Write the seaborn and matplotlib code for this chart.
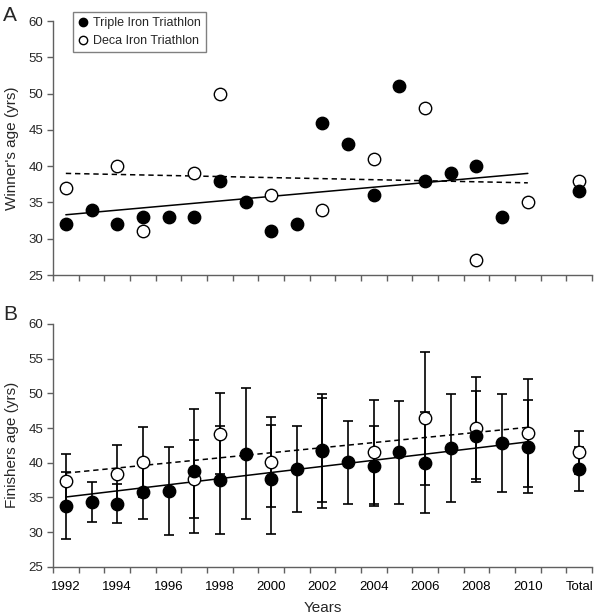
import numpy as np
import matplotlib
matplotlib.use("Agg")
import matplotlib.pyplot as plt
import seaborn as sns
from matplotlib.lines import Line2D

sns.set_theme(style="white")
plt.rcParams['font.family'] = ['Liberation Sans', 'DejaVu Sans']

nan = np.nan

# categories: 1992..2010, an empty slot, then Total
categories = [str(y) for y in range(1992, 2011)] + ["", "Total"]
tick_labels = ["1992", "1994", "1996", "1998", "2000", "2002", "2004",
               "2006", "2008", "2010", "Total"]

# panel A - winner's age
triple_winner = [32, 34, 32, 33, 33, 33, 38, 35, 31, 32, 46, 43, 36, 51, 38,
                 39, 40, 33, nan, nan, 36.6]
deca_winner = [37, nan, 40, 31, nan, 39, 50, nan, 36, nan, 34, nan, 41, nan,
               48, nan, 27, nan, 35, nan, 38]
trend_triple_a = [33.3, 39.0]
trend_deca_a = [39.0, 37.7]

# panel B - finishers age (mean, sd)
triple_mean = [33.8, 34.3, 34.1, 35.8, 35.9, 38.8, 37.5, 41.3, 37.6, 39.1,
               41.7, 40.05, 39.5, 41.5, 40.0, 42.1, 43.8, 42.8, 42.3, nan, 39.1]
triple_sd = [4.8, 2.85, 2.8, 3.9, 6.4, 8.9, 7.8, 9.4, 7.9, 6.2,
             8.2, 6.0, 5.8, 7.45, 7.3, 7.75, 6.6, 7.05, 6.7, nan, 3.2]
deca_mean = [37.4, nan, 38.4, 40.1, nan, 37.6, 44.2, nan, 40.1, nan,
             41.8, nan, 41.5, nan, 46.4, nan, 45.0, nan, 44.3, nan, 41.5]
deca_sd = [3.9, nan, 4.1, 5.1, nan, 5.6, 5.9, nan, 6.5, nan,
           7.5, nan, 7.5, nan, 9.6, nan, 7.3, nan, 7.75, nan, 3.1]
trend_triple_b = [35.05, 43.0]
trend_deca_b = [38.5, 45.1]
trend_x = [0, 18]

x = np.arange(len(categories))
spine_col = "#606060"

fig = plt.figure(figsize=(6.0, 6.16), dpi=100)
ax_a = fig.add_axes([53/600, 1-275/616, 539/600, 254/616])
ax_b = fig.add_axes([53/600, 1-566.7/616, 539/600, 242.7/616])


def style_axis(ax, show_labels):
    ax.set_xlim(-0.5, len(categories) - 0.5)
    ax.set_ylim(25, 60)
    ax.set_yticks(range(25, 61, 5))
    for s in ["top", "right"]:
        ax.spines[s].set_visible(False)
    for s in ["left", "bottom"]:
        ax.spines[s].set_color(spine_col)
        ax.spines[s].set_linewidth(1.0)
    ax.set_xticks(np.arange(-0.5, len(categories), 1.0))
    ax.set_xticklabels([])
    label_pos = [categories.index(t) for t in tick_labels]
    ax.set_xticks(label_pos, minor=True)
    ax.set_xticklabels(tick_labels if show_labels else [], minor=True)
    ax.tick_params(axis="x", which="major", direction="out", length=4,
                   width=1, color=spine_col, bottom=True)
    ax.tick_params(axis="x", which="minor", length=0, labelsize=9.5,
                   pad=10, colors="black", bottom=True)
    ax.tick_params(axis="y", direction="out", length=4, width=1,
                   color=spine_col, labelsize=9.5, pad=3, left=True)
    ax.grid(False)


def draw_points(ax, filled, opened):
    sns.scatterplot(x=x, y=opened, ax=ax, color="white", edgecolor="black",
                    linewidth=1.0, s=80, zorder=4, legend=False)
    sns.scatterplot(x=x, y=filled, ax=ax, color="black", edgecolor="black",
                    linewidth=1.0, s=80, zorder=5, legend=False)


# panel A
sns.lineplot(x=trend_x, y=trend_triple_a, ax=ax_a, color="black", lw=1.1,
             zorder=2)
sns.lineplot(x=trend_x, y=trend_deca_a, ax=ax_a, color="black", lw=1.1,
             linestyle=(0, (3.5, 2.5)), zorder=2)
draw_points(ax_a, triple_winner, deca_winner)
style_axis(ax_a, False)
ax_a.set_ylabel("Winner's age (yrs)", fontsize=11)
ax_a.yaxis.set_label_coords(-0.063, 0.5)

handles = [Line2D([], [], marker="o", color="black", ls="none", ms=6),
           Line2D([], [], marker="o", mfc="white", mec="black", ls="none",
                  ms=6)]
leg = ax_a.legend(handles, ["Triple Iron Triathlon", "Deca Iron Triathlon"],
                  loc="upper left", bbox_to_anchor=(73/600, 1-12/616),
                  bbox_transform=fig.transFigure, fontsize=9, frameon=True,
                  fancybox=False, handlelength=0.8, handletextpad=0.4,
                  borderpad=0.4, labelspacing=0.5, borderaxespad=0)
leg.get_frame().set_edgecolor(spine_col)
leg.get_frame().set_linewidth(1.0)

# panel B
ax_b.errorbar(x, deca_mean, yerr=deca_sd, fmt="none", ecolor="black",
              elinewidth=1.2, capsize=3.5, capthick=1.2, zorder=3)
ax_b.errorbar(x, triple_mean, yerr=triple_sd, fmt="none", ecolor="black",
              elinewidth=1.2, capsize=3.5, capthick=1.2, zorder=3)
sns.lineplot(x=trend_x, y=trend_triple_b, ax=ax_b, color="black", lw=1.1,
             zorder=2)
sns.lineplot(x=trend_x, y=trend_deca_b, ax=ax_b, color="black", lw=1.1,
             linestyle=(0, (3.5, 2.5)), zorder=2)
draw_points(ax_b, triple_mean, deca_mean)
style_axis(ax_b, True)
ax_b.set_ylabel("Finishers age (yrs)", fontsize=11)
ax_b.yaxis.set_label_coords(-0.063, 0.5)
ax_b.set_xlabel("Years", fontsize=11)
ax_b.xaxis.set_label_coords(0.5, -0.14)

fig.text(3/600, 1-6/616, "A", fontsize=15, va="top", ha="left")
fig.text(3/600, 1-305/616, "B", fontsize=15, va="top", ha="left")

fig.savefig("out.png", dpi=100)
